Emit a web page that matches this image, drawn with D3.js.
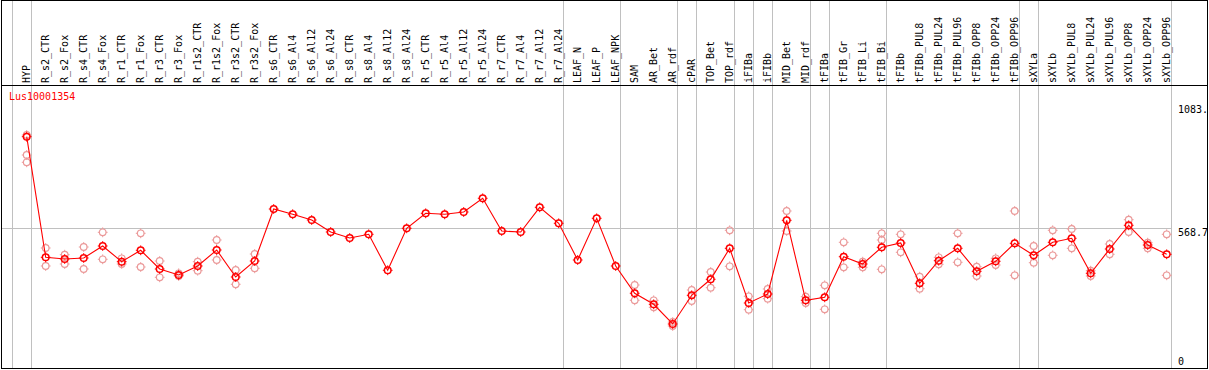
<!DOCTYPE html>
<html>
<head>
<meta charset="utf-8">
<script src="https://cdn.jsdelivr.net/npm/d3@7/dist/d3.min.js"></script>
<style>
  html, body { margin: 0; padding: 0; background: #ffffff; }
  svg { display: block; }
  text { font-family: "DejaVu Sans Mono", "Liberation Mono", monospace; font-size: 10px; }
</style>
</head>
<body>
<svg id="chart" width="1209" height="370"></svg>
<script>
// ---------------- DATA ----------------
const geneName = "Lus10001354";

const categories = [
  "HYP","R_s2_CTR","R_s2_Fox","R_s4_CTR","R_s4_Fox","R_r1_CTR","R_r1_Fox","R_r3_CTR","R_r3_Fox",
  "R_r1s2_CTR","R_r1s2_Fox","R_r3s2_CTR","R_r3s2_Fox","R_s6_CTR","R_s6_Al4","R_s6_Al12","R_s6_Al24",
  "R_s8_CTR","R_s8_Al4","R_s8_Al12","R_s8_Al24","R_r5_CTR","R_r5_Al4","R_r5_Al12","R_r5_Al24",
  "R_r7_CTR","R_r7_Al4","R_r7_Al12","R_r7_Al24","LEAF_N","LEAF_P","LEAF_NPK","SAM","AR_Bet","AR_rdf",
  "cPAR","TOP_Bet","TOP_rdf","iFIBa","iFIBb","MID_Bet","MID_rdf","tFIBa","tFIB_Gr","tFIB_Li","tFIB_Bi",
  "tFIBb","tFIBb_PUL8","tFIBb_PUL24","tFIBb_PUL96","tFIBb_OPP8","tFIBb_OPP24","tFIBb_OPP96",
  "sXYLa","sXYLb","sXYLb_PUL8","sXYLb_PUL24","sXYLb_PUL96","sXYLb_OPP8","sXYLb_OPP24","sXYLb_OPP96"
];

// main (summary) value per category
const mainValues = [
  951.0, 448.6, 441.5, 445.7, 495.7, 430.3, 477.8, 399.9, 374.9,
  412.4, 479.0, 366.6, 433.2, 649.8, 628.1, 604.0, 554.0,
  529.0, 544.4, 394.5, 569.4, 631.9, 627.7, 637.3, 694.4,
  558.2, 554.0, 656.9, 590.2, 437.4, 611.1, 412.4, 298.7, 252.8, 170.8,
  290.3, 357.0, 486.1, 258.3, 295.7, 602.7, 269.5, 282.0, 451.1, 420.7, 490.3,
  508.2, 340.3, 434.5, 486.1, 390.3, 432.0, 506.9,
  456.9, 511.1, 527.8, 382.0, 483.2, 581.9, 499.8, 461.1
];

// replicate values (null = no visible replicate)
const rep1Values = [
  958.0, 487.4, 459.4, 491.5, 552.7, 444.4, 548.6, 433.2, 382.0,
  430.3, 520.7, 395.7, 462.4, null, null, null, null,
  null, null, null, null, null, null, null, null,
  null, null, null, null, null, null, null, 333.2, 269.5, 179.1,
  312.4, 387.4, 561.1, 286.2, 316.6, 641.5, 284.5, 332.0, 511.1, 430.3, 548.6,
  544.4, 367.8, 448.6, 548.6, 409.5, 444.4, 641.5,
  495.7, 561.1, 566.5, 392.8, 504.0, 605.2, 509.4, 544.4
];
const rep2Values = [
  874.7, 412.4, 420.7, 399.9, 440.3, 420.7, 408.2, 365.3, 370.7,
  392.8, 437.4, 336.2, 402.8, null, null, null, null,
  null, null, null, null, null, null, null, null,
  null, null, null, null, null, null, null, 269.5, 240.3, 162.5,
  266.6, 322.0, 411.1, 230.3, 276.2, 558.2, 258.3, 232.0, 407.0, 407.0, 520.7,
  469.4, 317.8, 419.5, 427.8, 370.7, 416.5, 373.6,
  426.1, 456.9, 486.1, 370.7, 461.1, 554.0, 486.1, 373.6
];
const rep3Values = [
  844.3, null, null, null, null, null, null, null, null,
  null, null, null, null, null, null, null, null,
  null, null, null, null, null, null, null, null,
  null, null, null, null, null, null, null, null, null, null,
  null, null, null, null, null, null, null, null, null, null, 398.6,
  null, null, null, null, null, null, null,
  null, null, null, null, null, null, null, null
];

// first category of each group (vertical separators), plus chart end
const groupStarts = ["HYP","R_s2_CTR","LEAF_N","SAM","cPAR","TOP_Bet","iFIBa","iFIBb",
                     "MID_Bet","tFIBa","tFIB_Gr","tFIBb","sXYLa","sXYLb"];

const yMax = 1083;
const refValue = 568.7;
const yTickLabels = ["1083.", "568.7", "0"];

// ---------------- LAYOUT ----------------
const frameL = 1.5, frameR = 1207.5, frameT = 0.5, frameB = 368.5, headerB = 85.5;
const svg = d3.select("#chart");

const x = d3.scaleBand().domain(categories).range([11.7, 11.7 + 19 * categories.length]);
const px = c => x(c) + 15;
const y = d3.scaleLinear().domain([0, yMax]).range([365, 105]);
const gridEnd = x.range()[1];

const gridColor = "#c0c0c0";

// vertical separators
const sepXs = groupStarts.map(c => x(c)).concat([gridEnd]);
svg.append("g").selectAll("line").data(sepXs).join("line")
  .attr("x1", d => Math.round(d) + 0.5).attr("x2", d => Math.round(d) + 0.5)
  .attr("y1", frameT).attr("y2", frameB)
  .attr("stroke", gridColor).attr("stroke-width", 1);

// horizontal reference line
svg.append("line")
  .attr("x1", frameL).attr("x2", Math.round(gridEnd) + 0.5)
  .attr("y1", Math.round(y(refValue)) + 0.5).attr("y2", Math.round(y(refValue)) + 0.5)
  .attr("stroke", gridColor).attr("stroke-width", 1);

// frame
svg.append("rect").attr("x", frameL).attr("y", frameT)
  .attr("width", frameR - frameL).attr("height", frameB - frameT)
  .attr("fill", "none").attr("stroke", "#000").attr("stroke-width", 1);
svg.append("line").attr("x1", frameL).attr("x2", frameR)
  .attr("y1", headerB).attr("y2", headerB)
  .attr("stroke", "#000").attr("stroke-width", 1);

// header labels
svg.append("g").selectAll("text").data(categories).join("text")
  .attr("transform", c => `translate(${Math.round(px(c) + 3)},83) rotate(-90)`)
  .attr("text-anchor", "start")
  .attr("fill", "#000")
  .text(c => c);

// marker helper
function marker(g, cx, cy, color, sw) {
  const r = 3.3;
  g.append("circle").attr("cx", cx).attr("cy", cy).attr("r", r)
    .attr("fill", "none").attr("stroke", color).attr("stroke-width", sw);
  const t = 1.6;
  [[0,-1],[0,1],[-1,0],[1,0]].forEach(([dx,dy]) => {
    g.append("line")
      .attr("x1", cx + dx * r).attr("y1", cy + dy * r)
      .attr("x2", cx + dx * (r + t)).attr("y2", cy + dy * (r + t))
      .attr("stroke", color).attr("stroke-width", 1);
  });
}

// replicates
const repG = svg.append("g");
const pink = "#eb9a9a";
[rep1Values, rep2Values, rep3Values].forEach(arr => {
  arr.forEach((v, i) => {
    if (v == null) return;
    marker(repG, px(categories[i]), y(v), pink, 1.2);
  });
});

// main line
const line = d3.line().x((d, i) => px(categories[i])).y(d => y(d));
svg.append("path").datum(mainValues).attr("d", line)
  .attr("fill", "none").attr("stroke", "#ff0000").attr("stroke-width", 1.1);

// main markers
const mainG = svg.append("g");
mainValues.forEach((v, i) => marker(mainG, px(categories[i]), y(v), "#ff0000", 1.5));

// gene name
svg.append("text").attr("x", 9).attr("y", 100).attr("fill", "#ff0000").text(geneName);

// right-hand value labels
const labelVals = [yMax, refValue, 0];
svg.append("g").selectAll("text").data(labelVals).join("text")
  .attr("x", 1178)
  .attr("y", (d, i) => i < 2 ? y(d) + 7.5 : y(d))
  .attr("fill", "#000")
  .text((d, i) => yTickLabels[i]);
</script>
</body>
</html>
